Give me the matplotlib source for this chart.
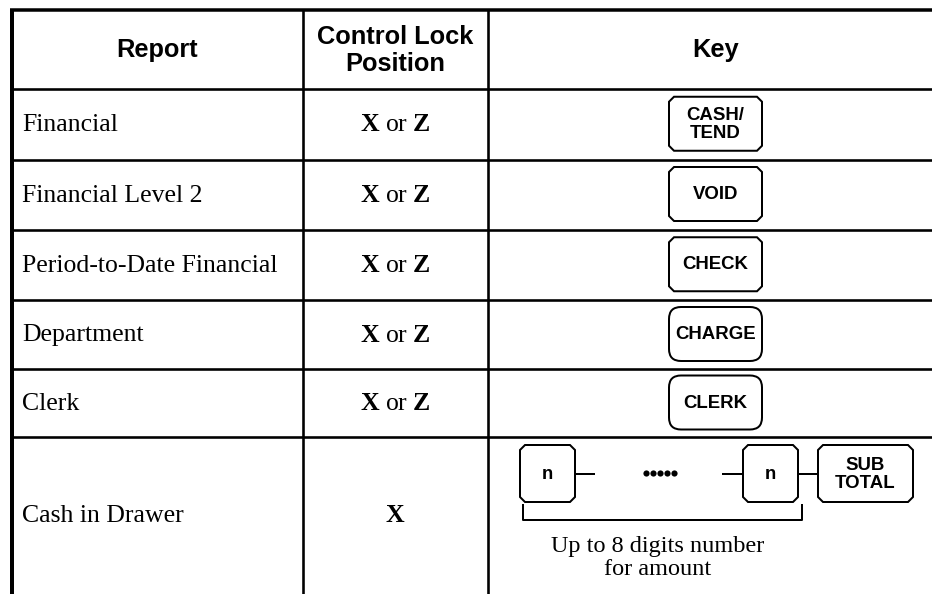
import matplotlib
matplotlib.use("Agg")
import matplotlib.pyplot as plt
import numpy as np
from matplotlib.patches import Polygon, FancyBboxPatch

# ---------------- data ----------------
headers = ["Report", "Control Lock\nPosition", "Key"]
reports = ["Financial", "Financial Level 2", "Period-to-Date Financial",
           "Department", "Clerk", "Cash in Drawer"]
positions = ["X or Z", "X or Z", "X or Z", "X or Z", "X or Z", "X"]
keys = ["CASH/\nTEND", "VOID", "CHECK", "CHARGE", "CLERK"]
key_shapes = ["chamfer", "chamfer", "chamfer", "round", "round"]
seq_keys = ["n", "n", "SUB\nTOTAL"]
seq_note = "Up to 8 digits number\nfor amount"

# ---------------- layout (pixels) ----------------
W, H = 932, 594
plt.rcParams["mathtext.fontset"] = "custom"
plt.rcParams["mathtext.bf"] = "Liberation Serif:bold"
plt.rcParams["mathtext.rm"] = "Liberation Serif"

fig = plt.figure(figsize=(W / 100, H / 100), dpi=100)
ax = fig.add_axes([0, 0, 1, 1])
ax.set_xlim(0, W)
ax.set_ylim(H, 0)
ax.axis("off")

px = 0.72  # points per pixel
left, c1, c2 = 11.5, 303, 488
top = 10
row_lines = [89, 159.5, 229.5, 300, 369, 437]
row_bounds = [top] + row_lines + [H]

# borders
ax.plot([left - 1.5, W], [top, top], color="black", lw=3.5 * px, solid_capstyle="butt")
ax.plot([left, left], [top, H], color="black", lw=4 * px, solid_capstyle="butt")
for x in (c1, c2):
    ax.plot([x, x], [top, H], color="black", lw=2.6 * px, solid_capstyle="butt")
for y in row_lines:
    ax.plot([left, W], [y, y], color="black", lw=2.6 * px, solid_capstyle="butt")

col_centers = [(left + c1) / 2, (c1 + c2) / 2, 715.5]
hfont = dict(family="Liberation Sans", weight="bold", fontsize=18.3)
for cx, h in zip(col_centers, headers):
    ax.text(cx, (top + row_lines[0]) / 2 + 1, h, ha="center", va="center",
            linespacing=1.12, **hfont)

sfont = dict(family="Liberation Serif", fontsize=18.5)
kfont = dict(family="Liberation Sans", weight="bold", fontsize=13.4)


def chamfer_box(cx, cy, w, h, c=5):
    x0, x1 = cx - w / 2, cx + w / 2
    y0, y1 = cy - h / 2, cy + h / 2
    pts = [(x0 + c, y0), (x1 - c, y0), (x1, y0 + c), (x1, y1 - c),
           (x1 - c, y1), (x0 + c, y1), (x0, y1 - c), (x0, y0 + c)]
    ax.add_patch(Polygon(pts, closed=True, fill=False, ec="black", lw=2.0 * px))


def round_box(cx, cy, w, h, r=12):
    ax.add_patch(FancyBboxPatch((cx - w / 2, cy - h / 2), w, h,
                                boxstyle=f"round,pad=0,rounding_size={r}",
                                fill=False, ec="black", lw=2.0 * px))


def pos_text(s):
    return " ".join(r"$\mathbf{%s}$" % t if t in ("X", "Z") else t for t in s.split(" "))


for i, (rep, pos) in enumerate(zip(reports, positions)):
    y0, y1 = row_bounds[i + 1], row_bounds[i + 2]
    cy = (y0 + y1) / 2
    ax.text(22, cy + 1, rep, ha="left", va="center", **sfont)
    ax.text(col_centers[1], cy + 1, pos_text(pos), ha="center", va="center", **sfont)
    if i < len(keys):
        w, h = 93, 54
        if key_shapes[i] == "chamfer":
            chamfer_box(715.5, cy - 0.5, w, h)
        else:
            round_box(715.5, cy - 0.5, w, h)
        ax.text(715.5, cy, keys[i], ha="center", va="center", linespacing=1.1, **kfont)

# ---- last row: key sequence ----
ky = 473.5
boxes = [(547.5, 55), (770.5, 55), (865.5, 95)]
for (bx, bw), lab in zip(boxes, seq_keys):
    chamfer_box(bx, ky, bw, 57)
    ax.text(bx, ky + 1, lab, ha="center", va="center", linespacing=1.1, **kfont)
# connectors
for xa, xb in [(575, 594), (723, 743), (798, 818)]:
    ax.plot([xa, xb], [ky, ky], color="black", lw=2.0 * px)
# ellipsis dots
dots_x = 646 + 7 * np.arange(5)
ax.plot(dots_x, np.full(5, ky - 1), "o", color="black", ms=6.2 * px, mew=0)
# bracket
ax.plot([522.5, 522.5, 802, 802], [505, 520, 520, 505], color="black", lw=2.0 * px)
ax.text(658, 558, seq_note, ha="center", va="center", linespacing=1.15,
        family="Liberation Serif", fontsize=17.5)

fig.savefig("out.png", dpi=100)
